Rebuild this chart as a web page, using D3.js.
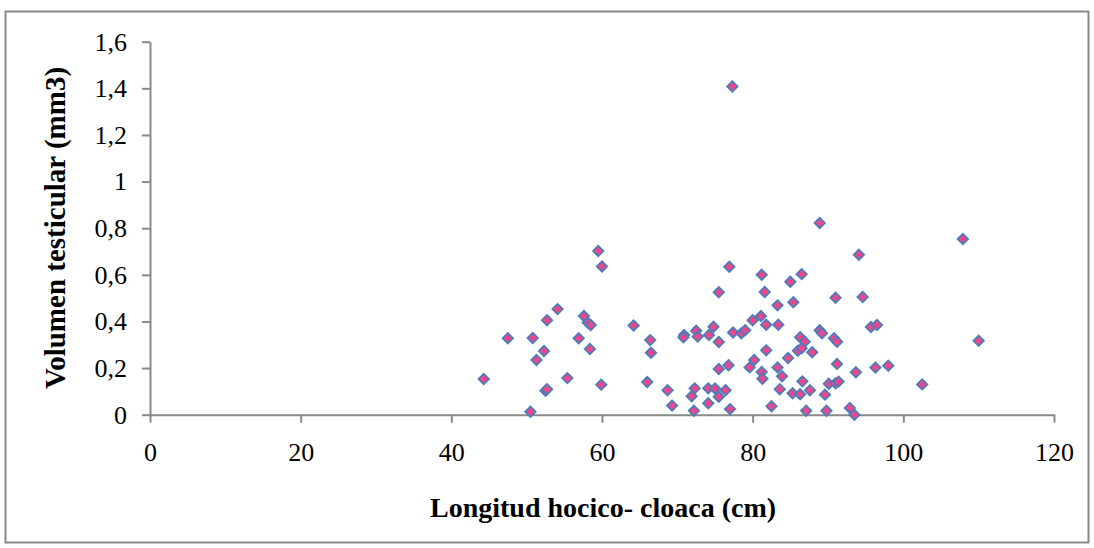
<!DOCTYPE html>
<html>
<head>
<meta charset="utf-8">
<script src="https://cdn.jsdelivr.net/npm/d3@7"></script>
<style>
  html, body { margin: 0; padding: 0; background: #fff; }
  svg { display: block; }
  .tick text { font-family: "Liberation Serif", "Times New Roman", serif; font-size: 26px; fill: #000; }
  .title { font-family: "Liberation Serif", "Times New Roman", serif; font-weight: bold; fill: #000; }
</style>
</head>
<body>
<svg id="chart" width="1094" height="548"></svg>
<script>
// Longitud hocico-cloaca (cm) of each specimen
const lhc = [
  44.3, 47.5, 50.5, 50.8, 51.3, 52.3, 52.7, 52.5, 52.7, 54.1,
  55.4, 56.9, 57.6, 58.1, 58.5, 58.4, 59.9, 59.5, 60.0, 64.2,
  66.4, 66.5, 66.0, 68.7, 69.3, 70.9, 70.8, 72.3, 71.9, 72.2,
  72.5, 72.7, 74.1, 74.1, 74.2, 74.8, 75.0, 75.5, 75.5, 75.5,
  75.5, 76.4, 76.8, 76.9, 77.0, 77.4, 77.3, 78.5, 79.0, 79.6,
  80.2, 80.0, 81.1, 81.2, 81.3, 81.2, 81.6, 81.8, 81.8, 82.5,
  83.3, 83.4, 83.3, 83.6, 83.9, 84.7, 85.0, 85.3, 85.4, 86.3,
  86.9, 86.0, 86.5, 86.3, 86.6, 86.5, 87.1, 87.6, 87.9, 88.9,
  89.2, 88.9, 89.6, 89.8, 90.1, 91.0, 91.4, 91.0, 90.8, 91.2,
  91.2, 92.9, 93.5, 93.7, 94.1, 94.6, 95.7, 96.5, 96.3, 98.0,
  102.5, 107.9, 110.0
];

// Volumen testicular (mm3), same order as lhc
const volumen = [
  0.153, 0.328, 0.013, 0.329, 0.235, 0.273, 0.405, 0.103, 0.109, 0.453,
  0.157, 0.328, 0.423, 0.395, 0.385, 0.282, 0.129, 0.702, 0.636, 0.383,
  0.320, 0.266, 0.140, 0.105, 0.039, 0.342, 0.332, 0.113, 0.079, 0.017,
  0.360, 0.335, 0.113, 0.049, 0.342, 0.377, 0.112, 0.312, 0.525, 0.196,
  0.077, 0.105, 0.212, 0.635, 0.024, 0.353, 1.408, 0.349, 0.362, 0.203,
  0.235, 0.405, 0.423, 0.183, 0.154, 0.600, 0.526, 0.386, 0.276, 0.036,
  0.469, 0.386, 0.203, 0.109, 0.165, 0.243, 0.570, 0.092, 0.482, 0.332,
  0.313, 0.274, 0.285, 0.088, 0.143, 0.603, 0.017, 0.105, 0.268, 0.362,
  0.349, 0.822, 0.086, 0.017, 0.133, 0.135, 0.142, 0.502, 0.328, 0.313,
  0.218, 0.029, 0.000, 0.182, 0.686, 0.505, 0.376, 0.385, 0.202, 0.210,
  0.130, 0.754, 0.317
];

const xTicks = [0, 20, 40, 60, 80, 100, 120];
const yTicks = [0, 0.2, 0.4, 0.6, 0.8, 1, 1.2, 1.4, 1.6];

const svg = d3.select("#chart");
const axisColor = "#898989";

// outer chart frame
svg.append("rect")
  .attr("x", 5.5).attr("y", 11.5)
  .attr("width", 1083).attr("height", 531)
  .attr("fill", "#fff")
  .attr("stroke", axisColor)
  .attr("stroke-width", 2);

const x = d3.scaleLinear().domain([0, 120]).range([150, 1054]);
const y = d3.scaleLinear().domain([0, 1.6]).range([414.7, 41.7]);

const fmt = v => String(+v.toFixed(1)).replace(".", ",");

const gx = svg.append("g")
  .attr("transform", `translate(0,${y(0)})`)
  .call(d3.axisBottom(x).tickValues(xTicks).tickSize(8).tickSizeOuter(0).tickPadding(20)
        .tickFormat(d => String(d)));

const gy = svg.append("g")
  .attr("transform", `translate(${x(0)},0)`)
  .call(d3.axisLeft(y).tickValues(yTicks).tickSize(8).tickSizeOuter(0).tickPadding(15)
        .tickFormat(fmt));

[gx, gy].forEach(g => {
  g.select(".domain").attr("stroke", axisColor).attr("stroke-width", 2);
  g.selectAll(".tick line").attr("stroke", axisColor).attr("stroke-width", 2);
});

// diamond markers
const diamond = d3.symbol().type(d3.symbolSquare).size(54);
svg.append("g")
  .selectAll("path")
  .data(lhc.map((v, i) => [v, volumen[i]]))
  .join("path")
  .attr("d", diamond)
  .attr("transform", d => `translate(${x(d[0])},${y(d[1])}) rotate(45)`)
  .attr("fill", "#f2448a")
  .attr("stroke", "#4a7ebb")
  .attr("stroke-width", 1.8);

// axis titles
svg.append("text")
  .attr("class", "title")
  .attr("x", 603).attr("y", 517)
  .attr("font-size", 28)
  .attr("text-anchor", "middle")
  .text("Longitud hocico- cloaca (cm)");

svg.append("text")
  .attr("class", "title")
  .attr("font-size", 29)
  .attr("transform", "translate(65,228) rotate(-90)")
  .attr("text-anchor", "middle")
  .text("Volumen testicular (mm3)");
</script>
</body>
</html>
